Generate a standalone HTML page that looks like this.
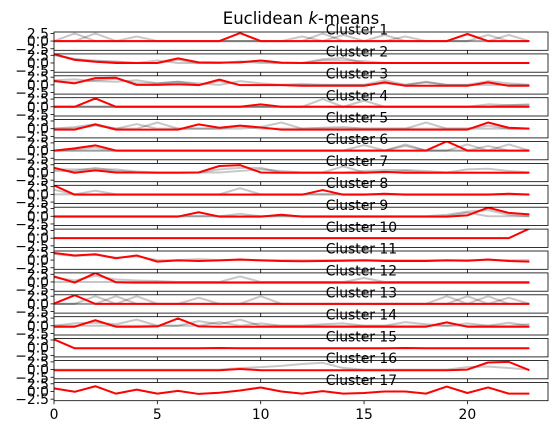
<!DOCTYPE html>
<html><head><meta charset="utf-8">
<style>
html,body{margin:0;padding:0;background:#fff;}
svg{display:block;font-family:"DejaVu Sans","Liberation Sans",sans-serif;}
</style></head>
<body>
<svg id="fig" width="559" height="435" viewBox="0 0 559 435" xmlns="http://www.w3.org/2000/svg">
<rect x="0" y="0" width="559" height="435" fill="#fff"/>
<text x="301" y="24" font-size="16.5" text-anchor="middle">Euclidean <tspan font-style="italic">k</tspan>-means</text>
</svg>
<script>
const clusterLabels = ["Cluster 1","Cluster 2","Cluster 3","Cluster 4","Cluster 5","Cluster 6","Cluster 7","Cluster 8","Cluster 9","Cluster 10","Cluster 11","Cluster 12","Cluster 13","Cluster 14","Cluster 15","Cluster 16","Cluster 17"];
const xTicks = [0,5,10,15,20];
const xTickLabels = ["0","5","10","15","20"];
const yTicks = [2.5,0,-2.5];
const yTickLabels = ["2.5","0.0","\u22122.5"];

const centroids = [
[0,0,0,0,0,0,0,0,0,2.6,0,0,0,0,0,0,0,0,0,0,2.3,0,0,0],
[2.9,1.0,0.4,0,0,0,1.5,0.2,0.1,0.2,0.8,0.1,0,0,0,0,0,0,0,0,0,0,0,0],
[1.3,0.5,2.2,2.3,0,0,0.2,-0.1,1.7,-0.1,-0.1,-0.1,-0.3,-0.3,-0.3,-0.3,0.8,-0.3,-0.3,-0.3,-0.3,0.8,-0.3,-0.3],
[0,0,2.7,0,0,0,0,0,0,0,0.8,0,0,0,0,0,0,0,0,0,0,0,0,0],
[-0.3,-0.3,1.4,-0.3,-0.3,-0.3,-0.3,1.4,0.3,1.0,0.4,-0.3,-0.3,-0.3,-0.3,-0.3,-0.3,-0.3,-0.3,-0.3,-0.3,2.0,0.3,0],
[0,0.7,1.7,0,0,0,0,0,0,0,0,0,0,0,0,0,0,0,0,3.0,0,0,0,0],
[1.5,-0.1,0.7,0,0,-0.1,-0.1,0,2.1,2.4,0,-0.1,-0.1,-0.1,-0.1,-0.1,0.2,-0.1,-0.1,-0.1,-0.1,-0.1,-0.1,-0.1],
[2.9,-0.1,-0.1,-0.1,-0.1,-0.1,-0.1,-0.1,-0.1,-0.1,-0.1,-0.1,-0.1,1.4,-0.1,-0.1,0.2,-0.1,-0.1,-0.1,-0.1,-0.1,0.2,-0.1],
[-0.1,-0.1,-0.1,-0.1,-0.1,-0.1,-0.1,1.3,-0.1,-0.1,-0.1,0.5,-0.1,-0.1,-0.1,-0.1,-0.1,-0.1,-0.1,-0.1,0.3,2.8,1.1,0.6],
[0,0,0,0,0,0,0,0,0,0,0,0,0,0,0,0,0,0,0,0,0,0,0,3.1],
[2.3,1.5,1.9,0.6,1.5,-0.5,-0.1,-0.3,-0.1,0.2,-0.1,-0.3,-0.4,-0.3,-0.2,-0.1,-0.3,-0.3,-0.3,-0.1,-0.2,0.2,-0.3,-0.5],
[1.8,-0.2,2.9,-0.1,-0.2,-0.2,-0.2,-0.2,-0.2,-0.2,-0.2,-0.2,-0.2,-0.2,-0.2,-0.2,-0.2,-0.2,-0.2,-0.2,-0.2,-0.2,-0.2,-0.2],
[0.1,2.8,0,0,0,0,0,0,0,0,0,0,0,0,0,0,0,0,0,0,0,0,0,0],
[-0.3,-0.3,1.8,-0.3,-0.3,-0.2,2.4,-0.2,-0.3,-0.3,-0.3,-0.3,-0.3,-0.3,-0.3,-0.3,-0.3,-0.3,-0.3,1.1,-0.3,-0.3,-0.3,-0.3],
[2.7,-0.2,-0.2,-0.2,-0.2,-0.2,-0.2,-0.2,-0.1,-0.2,-0.2,-0.2,-0.2,-0.2,-0.2,-0.2,-0.2,-0.1,-0.2,-0.2,-0.2,-0.2,-0.2,-0.2],
[-0.2,-0.2,-0.2,-0.2,-0.2,-0.2,-0.2,-0.2,-0.2,0.2,-0.2,-0.2,-0.2,-0.2,-0.2,-0.2,-0.2,-0.2,-0.2,-0.2,0,2.3,2.5,-0.2],
[1.0,-0.1,1.7,-0.7,0.6,-0.7,0.2,-0.8,-0.4,0.3,1.3,0,-0.7,0.1,-0.7,-0.5,0,0,-0.7,1.6,-0.5,1.3,-0.7,-0.7]
];

const members = [
[[0,2.5,0,0,0,0,0,0,0,0,0,0,0,2.5,0,0,0,0,0,0,0,2.0,0,0],[0,0,2.5,0,1.5,0,0,0,0,0,0,0,1.5,0,2.0,0,0,1.5,0,0,0,0,2.0,0],[0,0,0,0,0,0,0,0,0,0,0,0,0,0,0,0,2.0,0,0,0,0,0,0,0]],
[[2.5,1.2,0.8,0.3,0,0.8,0,0,0,0.4,0.5,0,0,1.2,1.6,0,0,0,0,0,0,0,0,0],[2.8,1.3,0.5,0.5,0,0,1,0,0,0.5,0,0,0,0.8,0.8,0.6,0,0,0,0,0,0,0,0]],
[[1.5,1.8,1.2,1,1.5,0.5,1,0.5,0,1.2,0.5,0,0,0,0,0,1.5,0,0.8,0,0,0,0,0],[1,0.8,1.5,2,0.5,0.5,1,0,1.2,0,0,0,0.3,0,0,0,0.5,0,1,0,0,1.2,0.5,0]],
[[0,0,0,0,0,0,0,0,0,0,0,0,0,2.5,0,0,0,0,0,0,0,0,0.5,0.5],[0,0,0,0,0,0,0,0,0,0,0,0,0,0,0,2.0,0,0,0,0,0,0,0,0],[0,0,0,0,0,0,0,0,0,0,0,0,0,0,0,0,0,0,0,0,0,0.8,0.5,0.8]],
[[0,0.5,1.5,0,0,2,0,0,0,0,0.5,2,0,0.3,0.5,0,0,0,0,0,0,0,0,0],[0,0,1.0,0,1.5,0,0,0,0,0.8,0,0,0,0,0,0,0,0,2.0,0,0,1.0,0,0]],
[[0,0.5,1.0,0,0,0,0,0,0,0,0,0,0,0,0,1.8,0,0,0,0,0,1.5,0,0],[0,0,0,0,0,0,0,0,0,0,0,0,0,0,0,0,0,2.0,0,0,0,0,2.0,0],[0,0,0,0,0,0,0,0,0,0,0,0,0,0,0,0,0,1.5,0,0,2.0,0,0,0]],
[[1.0,1.0,1.0,1.0,0.3,0,0,0,0,0.5,1.0,0.5,0,0,2.0,0,0,0.5,0,0,0,0,0,0],[0.5,0.5,1.5,0.5,0,0,0,0,1.0,1.5,1.5,0,0,0,0,0.5,0.8,0.8,0.5,0,1.0,1.2,0.5,0]],
[[1.5,0,1.2,0,0,0,0,0,0,0,0,0,0,0,0,0,0,0,0,0,0,0,0,0],[0,0,0,0,0,0,0,0,0,2.0,0,0,0,0,0,0,0,0,0,0,0,0,0,0]],
[[0,0,0,0,0,0,0,0,0,0.8,0,0,0,0,0,0,0,0,0,0,1.2,0,0,0],[0,0,0,0,0,0,0,0,0,0,0,0,0,0,0,0,0,0,0,0.5,1.5,2.0,0.5,0]],
[],
[[2.0,1.3,1.7,0.8,1.2,0,0,0.3,0,0,0,0,0,0,0,0,0,0,0,0,0,0,0,0]],
[[1.5,0.5,2.0,0.8,0.5,0.3,0,0,0,1.8,0,0,0,0,0,1.3,0,0,0,0,0,0,0,0],[0,0,0,0,0,0,0,0,0,0,0,0,0,0,0,0,0,0,0,0,0,0,0,0]],
[[0,0,2.5,0,0,0,0,0,0,0,0,0,0,0,0,0,0,0,0,0,0,2.5,0,0],[0,0,0,2.5,0,0,0,0,0,0,2.5,0,0,0,0,0,0,0,0,0,2.5,0,0,0],[0,0,0,0,2.5,0,0,2.0,0,0,0,0,0,0,0,0,0,0,0,2.5,0,0,2.0,0]],
[[0,0.8,1.0,0.5,2.0,0,0,1.5,0.5,2.0,0,0,0,0,0,0,0,0,0,0,0.8,0,1.0,0],[0,0,0,0,0,0,0,0,1.2,0,0.8,0,0,0.5,0.8,0,0,1.2,0.5,0,0,0,0,0.5]],
[],
[[0,0,0,0,0,0,0,0,0,0.5,0.8,1.2,1.8,2.2,0.5,0,0,0,0,0,0.8,1.0,0.5,0]],
[]
];

const NS = "http://www.w3.org/2000/svg";
const svg = document.getElementById("fig");
const X0 = 54, X1 = 548, XMIN = 0, XMAX = 23.9;
const TOP0 = 32, H = 18.3, SLOT = 21.9, YMIN = -3.0, YMAX = 2.95;
function xScale(v){ return X0 + (v - XMIN) / (XMAX - XMIN) * (X1 - X0); }
function yScale(v, k){ const top = TOP0 + k * SLOT; return top + (YMAX - v) / (YMAX - YMIN) * H; }
function mk(tag, attrs){ const e = document.createElementNS(NS, tag); for (const a in attrs) e.setAttribute(a, attrs[a]); return e; }
function pathFor(arr, k){ return arr.map((v,i)=>(i?"L":"M")+xScale(i).toFixed(2)+","+yScale(v,k).toFixed(2)).join(""); }

clusterLabels.forEach((label, k) => {
  const top = TOP0 + k * SLOT;
  const g = mk("g", {});
  
  
  const clipId = "clip" + k;
  const cp = mk("clipPath", {id: clipId});
  cp.appendChild(mk("rect", {x: X0, y: top, width: X1 - X0, height: H}));
  g.appendChild(cp);
  const lines = mk("g", {"clip-path": "url(#" + clipId + ")"});
  members[k].forEach((s, j) => {
    const p = mk("path", {d: pathFor(s, k), fill: "none", stroke: "#000", "stroke-opacity": "0.22", "stroke-width": "2", "stroke-linejoin": "round"});
    
    
    lines.appendChild(p);
  });
  const c = mk("path", {d: pathFor(centroids[k], k), fill: "none", stroke: "#ff0000", "stroke-width": "2", "stroke-linejoin": "round"});
  
  
  lines.appendChild(c);
  g.appendChild(lines);
  const frame = mk("rect", {x: X0, y: top, width: X1 - X0, height: H, fill: "none", stroke: "#000", "stroke-width": "0.8"});
  
  
  g.appendChild(frame);
  xTicks.forEach((t, i) => {
    const tk = mk("line", {x1: xScale(t), x2: xScale(t), y1: top + H, y2: top + H + 3.5, stroke: "#000", "stroke-width": "0.8"});
    
    
    g.appendChild(tk);
    if (k === clusterLabels.length - 1) {
      const tl = mk("text", {x: xScale(t), y: top + H + 18.5, "font-size": "13.9", "text-anchor": "middle"});
      tl.textContent = xTickLabels[i];
      
      
      g.appendChild(tl);
    }
  });
  yTicks.forEach((t, i) => {
    const y = yScale(t, k);
    const tk = mk("line", {x1: X0 - 3.5, x2: X0, y1: y, y2: y, stroke: "#000", "stroke-width": "0.8"});
    
    
    g.appendChild(tk);
    const tl = mk("text", {x: X0 - 5, y: y + 5, "font-size": "13.9", "text-anchor": "end"});
    tl.textContent = yTickLabels[i];
    
    
    g.appendChild(tl);
  });
  const lt = mk("text", {x: X0 + 0.55 * (X1 - X0), y: top + 0.15 * H, "font-size": "13.9"});
  lt.textContent = label;
  
  
  g.appendChild(lt);
  svg.appendChild(g);
});
</script>
</body></html>
